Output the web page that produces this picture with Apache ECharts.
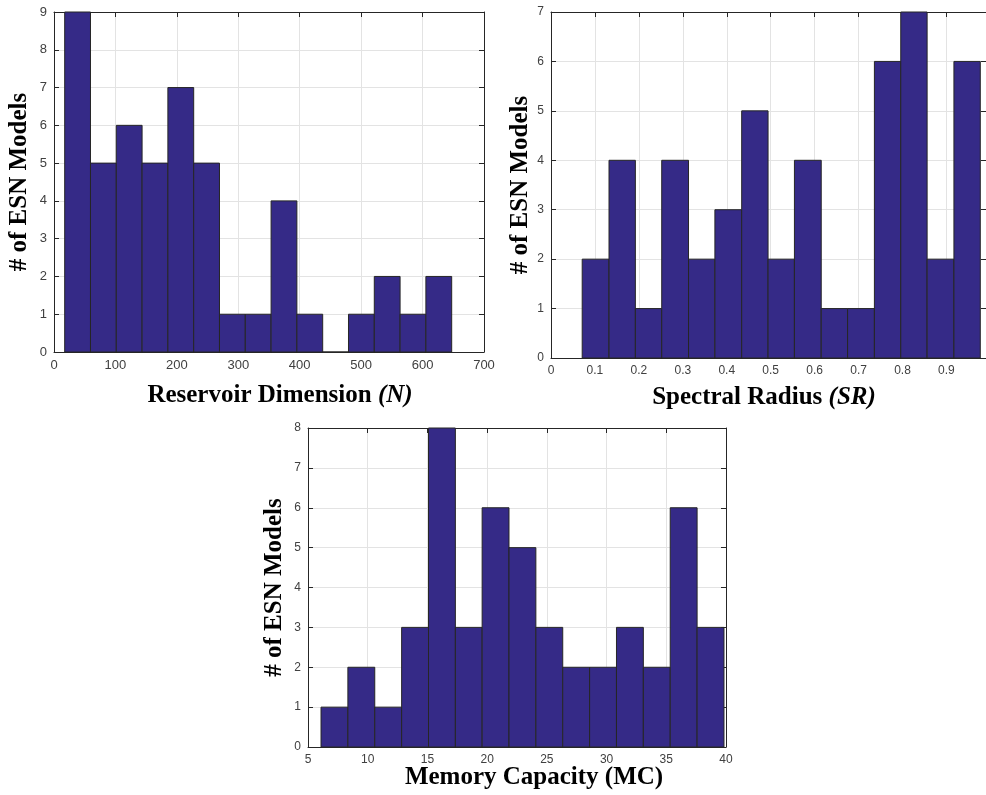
<!DOCTYPE html>
<html>
<head>
<meta charset="utf-8">
<script src="https://cdn.jsdelivr.net/npm/echarts@6/dist/echarts.min.js"></script>
<style>
html,body{margin:0;padding:0;background:#fff;}
#chart{width:986px;height:795px;}
</style>
</head>
<body>
<div id="chart"></div>
<script>
// ---- Data ----
const yTitle = '# of ESN Models';

// Panel 1: Reservoir Dimension (N)
const nEdges  = [17.4, 59.4, 101.4, 143.4, 185.4, 227.4, 269.4, 311.4, 353.4, 395.4, 437.4, 479.4, 521.4, 563.4, 605.4, 647.4];
const nCounts = [9, 5, 6, 5, 7, 5, 1, 1, 4, 1, 0, 1, 2, 1, 2];

// Panel 2: Spectral Radius (SR)
const srEdges  = [0.071, 0.132, 0.192, 0.252, 0.313, 0.373, 0.434, 0.494, 0.554, 0.615, 0.675, 0.736, 0.796, 0.856, 0.917, 0.977];
const srCounts = [2, 4, 1, 4, 2, 3, 5, 2, 4, 1, 1, 6, 7, 2, 6];

// Panel 3: Memory Capacity (MC)
const mcEdges  = [6.09, 8.34, 10.59, 12.84, 15.09, 17.34, 19.58, 21.83, 24.08, 26.33, 28.58, 30.83, 33.08, 35.33, 37.58, 39.83];
const mcCounts = [1, 2, 1, 3, 8, 3, 6, 5, 3, 2, 2, 3, 2, 6, 3];

// ---- Styling ----
const AX = '#262626';
const LBL = '#404040';
const GRIDC = '#e3e3e3';
const FILL = '#352a87';
const SERIF = '"Liberation Serif", "Times New Roman", serif';
const SANS = '"Liberation Sans", Arial, Helvetica, sans-serif';

const grids = [
  {left: 54, top: 12, width: 430, height: 340},
  {left: 551, top: 12, width: 435, height: 346},
  {left: 308, top: 428, width: 418, height: 319}
];
const xCfg = [
  {min: 0, max: 700, interval: 100, fs: 13},
  {min: 0, max: 0.99, interval: 0.1, fs: 12},
  {min: 5, max: 40, interval: 5, fs: 12}
];
const yCfg = [
  {min: 0, max: 9, interval: 1, gap: 22, fs: 13},
  {min: 0, max: 7, interval: 1, gap: 17, fs: 12},
  {min: 0, max: 8, interval: 1, gap: 21, fs: 12}
];

const xAxes = [], yAxes = [];
xCfg.forEach((c, i) => {
  xAxes.push({
    type: 'value', gridIndex: i, position: 'bottom', min: c.min, max: c.max, interval: c.interval,
    axisLine: {show: true, onZero: false, lineStyle: {color: AX, width: 1}},
    axisTick: {show: true, inside: true, length: 5, lineStyle: {color: AX}},
    axisLabel: {color: LBL, fontFamily: SANS, fontSize: c.fs, margin: 7, showMaxLabel: i !== 1},
    splitLine: {show: true, lineStyle: {color: GRIDC, width: 1}}
  });
  xAxes.push({
    type: 'value', gridIndex: i, position: 'top', min: c.min, max: c.max, interval: c.interval,
    axisLine: {show: true, onZero: false, lineStyle: {color: AX, width: 1}},
    axisTick: {show: true, inside: true, length: 5, lineStyle: {color: AX}},
    axisLabel: {show: false}, splitLine: {show: false}
  });
});
yCfg.forEach((c, i) => {
  yAxes.push({
    type: 'value', gridIndex: i, position: 'left', min: c.min, max: c.max, interval: c.interval,
    name: yTitle, nameLocation: 'middle', nameGap: c.gap,
    nameTextStyle: {fontFamily: SERIF, fontWeight: 'bold', fontSize: 25, color: '#000'},
    axisLine: {show: true, onZero: false, lineStyle: {color: AX, width: 1}},
    axisTick: {show: true, inside: true, length: 5, lineStyle: {color: AX}},
    axisLabel: {color: LBL, fontFamily: SANS, fontSize: c.fs, margin: 7},
    splitLine: {show: true, lineStyle: {color: GRIDC, width: 1}}
  });
  yAxes.push({
    type: 'value', gridIndex: i, position: 'right', min: c.min, max: c.max, interval: c.interval,
    axisLine: {show: true, onZero: false, lineStyle: {color: AX, width: 1}},
    axisTick: {show: true, inside: true, length: 5, lineStyle: {color: AX}},
    axisLabel: {show: false}, splitLine: {show: false}
  });
});

function histSeries(idx, edges, counts) {
  const data = counts.map((c, i) => [edges[i], edges[i + 1], c]);
  return {
    type: 'custom', xAxisIndex: idx * 2, yAxisIndex: idx * 2, data: data,
    encode: {x: [0, 1], y: 2},
    renderItem: function (params, api) {
      const p0 = api.coord([api.value(0), 0]);
      const p1 = api.coord([api.value(1), api.value(2)]);
      return {
        type: 'rect',
        shape: {x: p0[0], y: p1[1], width: p1[0] - p0[0], height: p0[1] - p1[1]},
        style: {fill: FILL, stroke: AX, lineWidth: 1}
      };
    }
  };
}

function xTitle(x, y, main, ital) {
  return {
    type: 'text', x: x, y: y,
    style: {
      text: main + ' {i|' + ital + '}',
      align: 'center', verticalAlign: 'middle',
      font: 'bold 25px ' + SERIF, fill: '#000',
      rich: {i: {fontStyle: 'italic', fontWeight: 'bold', fontSize: 25, fontFamily: SERIF, fill: '#000'}}
    }
  };
}
function xTitlePlain(x, y, txt) {
  return {
    type: 'text', x: x, y: y,
    style: {text: txt, align: 'center', verticalAlign: 'middle', font: 'bold 25px ' + SERIF, fill: '#000'}
  };
}

const chart = echarts.init(document.getElementById('chart'), null, {renderer: 'canvas'});
chart.setOption({
  backgroundColor: '#fff',
  animation: false,
  grid: grids,
  xAxis: xAxes,
  yAxis: yAxes,
  series: [
    histSeries(0, nEdges, nCounts),
    histSeries(1, srEdges, srCounts),
    histSeries(2, mcEdges, mcCounts)
  ],
  graphic: [
    xTitle(280, 396, 'Reservoir Dimension', '(N)'),
    xTitle(764, 398, 'Spectral Radius', '(SR)'),
    xTitlePlain(534, 778, 'Memory Capacity (MC)')
  ]
});
</script>
</body>
</html>
